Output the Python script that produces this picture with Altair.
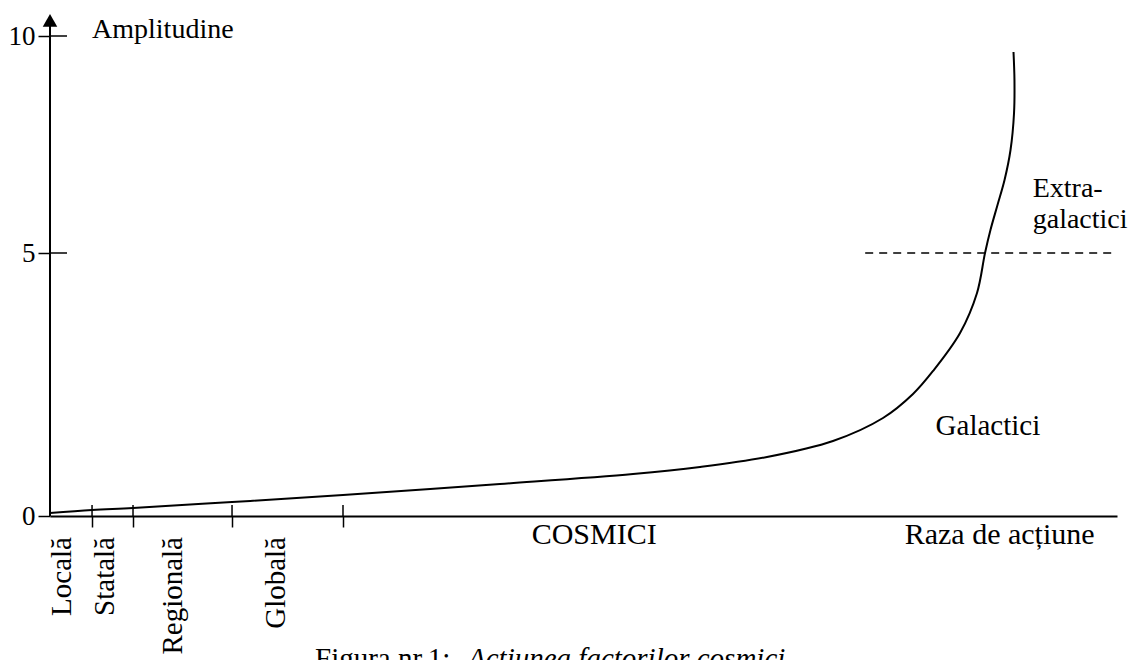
import altair as alt
import pandas as pd

# ---- data ----
curve_x = [0, 3.94, 7.78, 17.06, 27.46, 42.17, 54.64, 60.92, 67.20, 73.38, 78.07,
           80.88, 82.76, 85.29, 86.88, 87.63, 88.14, 88.80, 89.46, 90.02, 90.35, 90.39, 90.30]
curve_y = [0.057, 0.114, 0.152, 0.266, 0.399, 0.608, 0.798, 0.932, 1.122, 1.426, 1.863,
           2.319, 2.757, 3.479, 4.240, 5.0, 5.53, 6.106, 6.682, 7.373, 8.226, 8.986, 9.631]

y_ticks = [0, 5, 10]
x_bounds = [3.94, 7.78, 17.06, 27.46]          # boundaries on the "Raza de acțiune" axis
region_names = ["Locală", "Statală", "Regională", "Globală"]
region_x = [1.12, 5.15, 11.5, 21.2]

threshold = 5
threshold_x = [76.4, 100]
axis_top = 10.4

FONT = "Liberation Serif"

curve = pd.DataFrame({"x": curve_x, "y": curve_y, "i": range(len(curve_x))})

xs = alt.Scale(domain=[0, 100], nice=False, zero=False)
ys = alt.Scale(domain=[0, 5, 10], range=[480, 217, 0], nice=False, zero=False)

line = alt.Chart(curve).mark_line(color="black", strokeWidth=2, interpolate="catmull-rom").encode(
    x=alt.X("x:Q", scale=xs, axis=alt.Axis(values=x_bounds, labels=False, title=None, grid=False,
                                           tickSize=11, tickWidth=1.5, tickColor="black",
                                           domainColor="black", domainWidth=2)),
    y=alt.Y("y:Q", scale=ys, axis=alt.Axis(values=y_ticks, title=None, grid=False, domain=False,
                                           tickSize=12, tickWidth=1.5, tickColor="black",
                                           labelFont=FONT, labelFontSize=27, labelColor="black",
                                           labelPadding=3)),
    order="i:O",
)

yaxis_line = alt.Chart(pd.DataFrame({"a": [0], "b": [axis_top]})).mark_rule(
    color="black", strokeWidth=2).encode(x=alt.value(0), y=alt.Y("a:Q", scale=ys), y2="b:Q")

arrow = alt.Chart(pd.DataFrame({"y": [10.36]})).mark_point(
    shape="triangle-up", filled=True, color="black", size=210, opacity=1).encode(
    x=alt.value(0), y=alt.Y("y:Q", scale=ys))

y_inner = alt.Chart(pd.DataFrame({"y": y_ticks[1:]})).mark_rule(color="black", strokeWidth=1.5).encode(
    x=alt.value(0), x2=alt.value(17), y=alt.Y("y:Q", scale=ys))

x_inner = alt.Chart(pd.DataFrame({"x": x_bounds})).mark_rule(color="black", strokeWidth=1.5).encode(
    x=alt.X("x:Q", scale=xs), y=alt.value(469), y2=alt.value(480))

dashed = alt.Chart(pd.DataFrame({"x": [threshold_x[0]], "x2": [threshold_x[1]], "y": [threshold]})).mark_rule(
    color="black", strokeWidth=1.5, strokeDash=[8, 6]).encode(
    x=alt.X("x:Q", scale=xs), x2="x2:Q", y=alt.Y("y:Q", scale=ys))

regions = alt.Chart(pd.DataFrame({"t": region_names, "x": region_x})).mark_text(
    font=FONT, fontSize=29, color="black", angle=270, align="right", baseline="middle").encode(
    x=alt.X("x:Q", scale=xs), y=alt.value(501), text="t:N")

bottom = alt.Chart(pd.DataFrame({"t": ["COSMICI", "Raza de acțiune"], "x": [51.0, 89.0]})).mark_text(
    font=FONT, fontSize=30, color="black", align="center", baseline="alphabetic").encode(
    x=alt.X("x:Q", scale=xs), y=alt.value(508), text="t:N")

notes_left = alt.Chart(pd.DataFrame({
    "t": ["Amplitudine", "Extra-", "galactici"],
    "x": [3.94, 92.1, 92.1],
    "y": [9.954, 6.29, 5.58]})).mark_text(
    font=FONT, fontSize=28, color="black", align="left", baseline="alphabetic").encode(
    x=alt.X("x:Q", scale=xs), y=alt.Y("y:Q", scale=ys), text="t:N")

galactici = alt.Chart(pd.DataFrame({"t": ["Galactici"], "x": [87.9], "y": [1.54]})).mark_text(
    font=FONT, fontSize=29, color="black", align="center", baseline="alphabetic").encode(
    x=alt.X("x:Q", scale=xs), y=alt.Y("y:Q", scale=ys), text="t:N")

cap1 = alt.Chart(pd.DataFrame({"t": ["Figura nr.1: "]})).mark_text(
    font=FONT, fontSize=29, color="black", align="left", baseline="alphabetic").encode(
    x=alt.value(265), y=alt.value(632), text="t:N")

cap2 = alt.Chart(pd.DataFrame({"t": ["Acțiunea factorilor cosmici"]})).mark_text(
    font=FONT, fontSize=29, fontStyle="italic", color="black", align="left", baseline="alphabetic").encode(
    x=alt.value(418), y=alt.value(632), text="t:N")

chart = alt.layer(
    line, yaxis_line, arrow, y_inner, x_inner, dashed, regions, bottom, notes_left, galactici, cap1, cap2
).properties(
    width=1067, height=480,
    autosize=alt.AutoSizeParams(type="none"),
    padding={"left": 42, "top": 28, "right": 11, "bottom": 144},
    background="white",
).configure_view(stroke=None)

chart.save("out.html", embed_options={"renderer": "svg", "actions": False})
